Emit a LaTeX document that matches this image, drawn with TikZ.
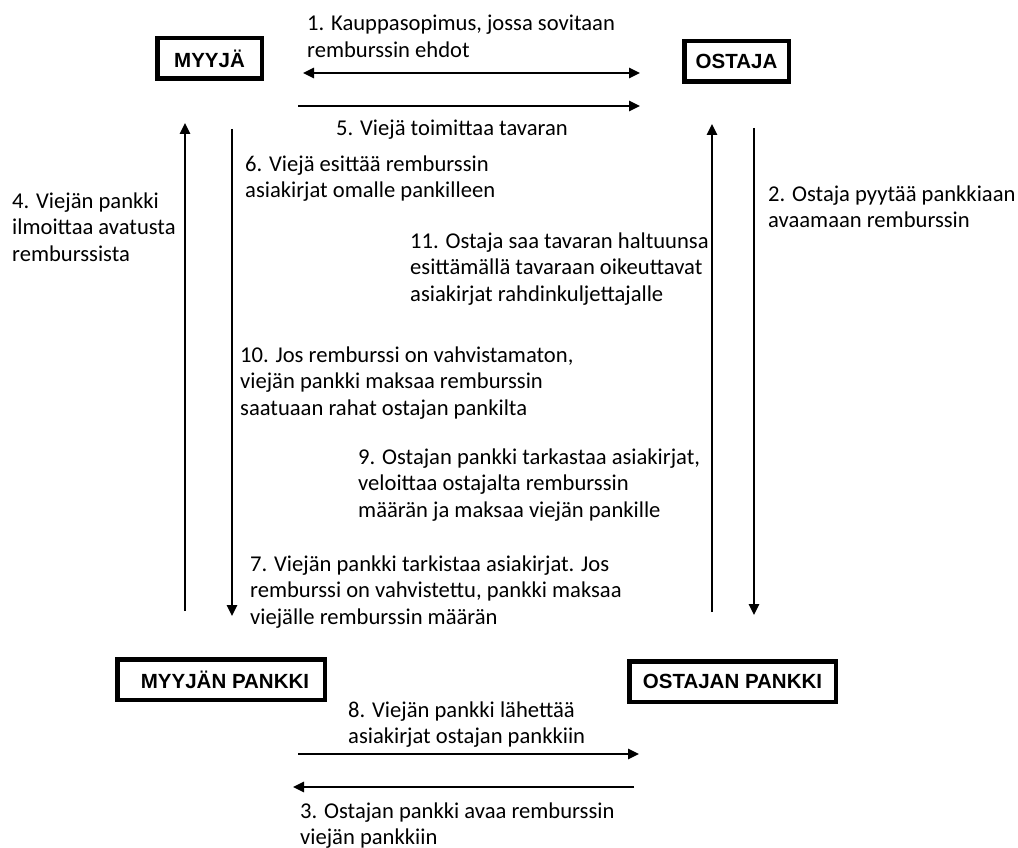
\documentclass[tikz,border=0pt]{standalone}
\usepackage{fontspec}
\setmainfont{Carlito}
\newfontfamily\boxfont{Liberation Sans}
\usetikzlibrary{arrows.meta}

\begin{document}
\begin{tikzpicture}[x=1pt, y=-1pt,
  party/.style={draw, line width=4.5pt, inner sep=0pt,
    minimum height=40.5pt, font=\boxfont\bfseries\fontsize{20.5}{24}\selectfont},
  flow/.style={line width=2.5pt, -{Triangle[length=11pt, width=10pt]}},
  flowboth/.style={line width=2.5pt, {Triangle[length=11pt, width=10pt]}-{Triangle[length=11pt, width=10pt]}},
  % anchored at the baseline of the last line
  note/.style={anchor=base west, inner sep=0pt, align=left,
    font=\fontsize{22.6}{26.5}\selectfont}]
\useasboundingbox (0,0) rectangle (1018,848);

% parties
\node[party, minimum width=104.5pt] (myyja)  at (209.5,58.5) {MYYJÄ};
\node[party, minimum width=104.5pt] (ostaja) at (736.5,61.5) {OSTAJA};
\node[party, minimum width=207.5pt] (mpankki) at (221,679.5) {\hspace*{8pt}MYYJÄN PANKKI};
\node[party, minimum width=206.5pt] (opankki) at (732.5,681.5) {OSTAJAN PANKKI};

% arrow end points
\coordinate (s1) at (303,73);   \coordinate (e1) at (640,73);
\coordinate (s5) at (298,106);  \coordinate (e5) at (640,106);
\coordinate (s4) at (185,611);  \coordinate (e4) at (185,123);
\coordinate (s6) at (232,129);  \coordinate (e6) at (232,616);
\coordinate (s11) at (712,612); \coordinate (e11) at (712,124);
\coordinate (s2) at (754,128);  \coordinate (e2) at (754,615);
\coordinate (s8) at (298,754);  \coordinate (e8) at (639,754);
\coordinate (s3) at (634,787);  \coordinate (e3) at (293,787);

% connectors
\draw[flowboth] (s1) -- (e1);
\draw[flow] (s5) -- (e5);
\draw[flow] (s4) -- (e4);
\draw[flow] (s6) -- (e6);
\draw[flow] (s11) -- (e11);
\draw[flow] (s2) -- (e2);
\draw[flow] (s8) -- (e8);
\draw[flow] (s3) -- (e3);

% step descriptions
\node[note] (t1) at (307,57.5) {1. Kauppasopimus, jossa sovitaan\\remburssin ehdot};
\node[note] (t5) at (336,136) {5. Viejä toimittaa tavaran};
\node[note] (t6) at (245,197.5) {6. Viejä esittää remburssin\\asiakirjat omalle pankilleen};
\node[note] (t4) at (12,261) {4. Viejän pankki\\ilmoittaa avatusta\\remburssista};
\node[note] (t2) at (768,227.5) {2. Ostaja pyytää pankkiaan\\avaamaan remburssin};
\node[note] (t11) at (410,301) {11. Ostaja saa tavaran haltuunsa\\esittämällä tavaraan oikeuttavat\\asiakirjat rahdinkuljettajalle};
\node[note] (t10) at (240,415) {10. Jos remburssi on vahvistamaton,\\viejän pankki maksaa remburssin\\saatuaan rahat ostajan pankilta};
\node[note] (t9) at (358,517) {9. Ostajan pankki tarkastaa asiakirjat,\\veloittaa ostajalta remburssin\\määrän ja maksaa viejän pankille};
\node[note] (t7) at (250,624) {7. Viejän pankki tarkistaa asiakirjat. Jos\\remburssi on vahvistettu, pankki maksaa\\viejälle remburssin määrän};
\node[note] (t8) at (348,743.5) {8. Viejän pankki lähettää\\asiakirjat ostajan pankkiin};
\node[note] (t3) at (300,844.5) {3. Ostajan pankki avaa remburssin\\viejän pankkiin};
\end{tikzpicture}
\end{document}
